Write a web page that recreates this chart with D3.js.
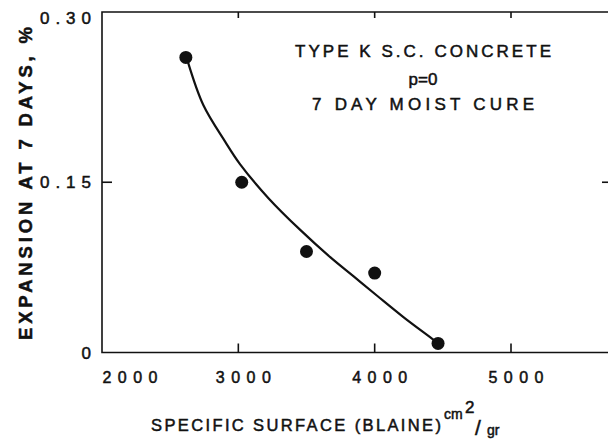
<!DOCTYPE html>
<html>
<head>
<meta charset="utf-8">
<script src="https://cdn.jsdelivr.net/npm/d3@7"></script>
<style>
  html, body { margin: 0; padding: 0; background: #fff; }
  svg { display: block; }
  text { font-family: 'Liberation Sans', Arial, sans-serif; fill: #111; stroke: #111; stroke-width: 0.5px; }
</style>
</head>
<body>
<svg class="stage" width="608" height="439"></svg>
<script>
// measured points (specific surface, expansion %)
var surface = [2615, 3025, 3500, 4000, 4465];
var expansion = [0.260, 0.150, 0.089, 0.070, 0.008];

// hand drawn fit curve
var curveX = [2630, 2743, 2902, 3012, 3221, 3454, 3674, 3846, 4018, 4213, 4434, 4465];
var curveY = [0.256, 0.218, 0.186, 0.166, 0.136, 0.108, 0.084, 0.067, 0.050, 0.031, 0.011, 0.008];

var xTicks = [2000, 3000, 4000, 5000];
var yTicks = [0, 0.15, 0.30];
var yTickLabels = ['0', '0.15', '0.30'];
var notes = ['TYPE K S.C. CONCRETE', 'p=0', '7 DAY  MOIST CURE'];

var svg = d3.select('svg.stage');
var width = +svg.attr('width');
var height = +svg.attr('height');

svg.append('rect').attr('width', width).attr('height', height).attr('fill', '#fff');

var x = d3.scaleLinear().domain([2000, 5000]).range([102, 511]);
var y = d3.scaleLinear().domain([0, 0.30]).range([352.5, 12]);
var xEnd = 5760; // frame runs off the right edge

var ink = '#111';

// frame
var frame = svg.append('g').attr('stroke', ink).attr('fill', 'none').attr('stroke-width', 1.6);
frame.append('path')
  .attr('d', 'M' + x(xEnd) + ',' + y(0.30) + 'H' + x(2000) + 'V' + y(0) + 'H' + x(xEnd));

// inner ticks on bottom and top
frame.selectAll('.tb').data(xTicks.slice(1)).enter().append('line')
  .attr('x1', function (d) { return x(d); })
  .attr('x2', function (d) { return x(d); })
  .attr('y1', y(0))
  .attr('y2', y(0) - 9);
frame.selectAll('.tt').data(xTicks.slice(1)).enter().append('line')
  .attr('x1', function (d) { return x(d); })
  .attr('x2', function (d) { return x(d); })
  .attr('y1', y(0.30))
  .attr('y2', y(0.30) + 6);
frame.append('line')
  .attr('x1', x(2000)).attr('x2', x(2000) + 10)
  .attr('y1', y(0.15)).attr('y2', y(0.15));
frame.append('line')
  .attr('x1', width).attr('x2', width - 6)
  .attr('y1', y(0.15)).attr('y2', y(0.15));

// x tick labels
svg.selectAll('.xl').data(xTicks).enter().append('text')
  .attr('x', function (d) { return x(d) + (d === 2000 ? 28 : 5); })
  .attr('y', 383)
  .attr('text-anchor', 'middle')
  .attr('font-size', 16)
  .attr('textLength', 55)
  .attr('lengthAdjust', 'spacing')
  .text(function (d) { return d; });

// y tick labels
svg.selectAll('.yl').data(yTicks).enter().append('text')
  .attr('x', 91)
  .attr('y', function (d) { return Math.max(y(d), 18) + 6; })
  .attr('text-anchor', 'end')
  .attr('font-size', 17)
  .attr('textLength', function (d, i) { return yTickLabels[i].length > 1 ? 51 : 12; })
  .attr('lengthAdjust', 'spacing')
  .text(function (d, i) { return yTickLabels[i]; });

// y title
svg.append('text')
  .attr('transform', 'translate(32,183.5) rotate(-90)')
  .attr('text-anchor', 'middle')
  .attr('font-size', 18.5)
  .attr('font-weight', 'bold')
  .attr('textLength', 313)
  .attr('lengthAdjust', 'spacing')
  .text('EXPANSION AT 7 DAYS, %');

// x title with units
var xt = svg.append('g');
xt.append('text')
  .attr('x', 151).attr('y', 431)
  .attr('font-size', 16.5)
  .attr('textLength', 290)
  .attr('lengthAdjust', 'spacing')
  .text('SPECIFIC SURFACE (BLAINE)');
xt.append('text').attr('x', 444).attr('y', 419).attr('font-size', 14).text('cm');
xt.append('text').attr('x', 465).attr('y', 413).attr('font-size', 17).text('2');
xt.append('text').attr('x', 475).attr('y', 435).attr('font-size', 21).text('/');
xt.append('text').attr('x', 487).attr('y', 435).attr('font-size', 14).text('gr');

// annotation
var noteX = 423;
var noteY = [57, 85, 110];
var noteW = [256, 0, 222];
svg.selectAll('.note').data(notes).enter().append('text')
  .attr('x', noteX)
  .attr('y', function (d, i) { return noteY[i]; })
  .attr('text-anchor', 'middle')
  .attr('font-size', 17)
  .attr('textLength', function (d, i) { return noteW[i] || null; })
  .attr('lengthAdjust', 'spacing')
  .text(function (d) { return d; });

// fit curve
var line = d3.line()
  .x(function (d) { return x(d[0]); })
  .y(function (d) { return y(d[1]); })
  .curve(d3.curveCatmullRom.alpha(0.5));

svg.append('path')
  .datum(d3.zip(curveX, curveY))
  .attr('d', line)
  .attr('fill', 'none')
  .attr('stroke', ink)
  .attr('stroke-width', 2.2);

// data points
svg.selectAll('.pt').data(d3.zip(surface, expansion)).enter().append('circle')
  .attr('cx', function (d) { return x(d[0]); })
  .attr('cy', function (d) { return y(d[1]); })
  .attr('r', 6.5)
  .attr('fill', ink);
</script>
</body>
</html>
